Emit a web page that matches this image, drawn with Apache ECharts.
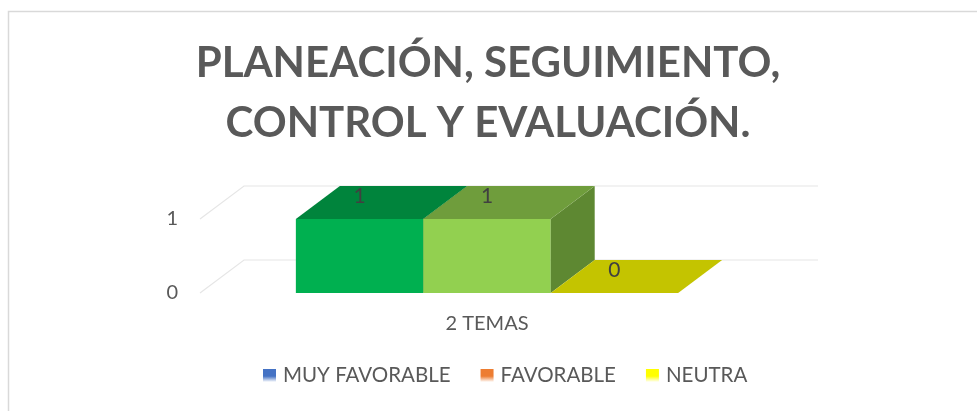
<!DOCTYPE html>
<html>
<head>
<meta charset="utf-8">
<script src="https://cdn.jsdelivr.net/npm/echarts@6/dist/echarts.min.js"></script>
<style>
  html, body { margin: 0; padding: 0; background: #fff; }
  #chart { width: 977px; height: 411px; }
</style>
</head>
<body>
<div id="chart"></div>
<script>
// Chart data
const titleLines = ['PLANEACIÓN, SEGUIMIENTO,', 'CONTROL Y EVALUACIÓN.'];
const categories = ['2 TEMAS'];
const seriesNames = ['MUY FAVORABLE', 'FAVORABLE', 'NEUTRA'];
const muyFavorable = [1];
const favorable = [1];
const neutra = [0];
const yTicks = [0, 1];

// Legend swatch colours and the face colours of each 3D bar
const legendColors = ['#4472C4', '#ED7D31', '#FFFF00'];
const barFaces = [
  { front: '#00B050', top: '#00843C', side: '#00803A' },
  { front: '#92D050', top: '#6F9D3C', side: '#5E8832' },
  { front: '#D4D400', top: '#C4C400', side: '#A8A800' }
];

const DEPTH_X = 44;   // horizontal depth offset of the 3D box
const DEPTH_Y = 33;   // vertical depth offset of the 3D box
const BAR_RATIO = 0.222; // bar width as a share of the category band
const FONT = 'Lato, "Open Sans", sans-serif';
const TEXT_GRAY = '#595959';

const chart = echarts.init(document.getElementById('chart'));

function gradient(c) {
  return new echarts.graphic.LinearGradient(0, 0, 0, 1, [
    { offset: 0, color: c },
    { offset: 0.55, color: c },
    { offset: 1, color: '#ffffff' }
  ]);
}

// Back-wall gridlines with their diagonal floor edge
function renderGrid(params, api) {
  const cs = params.coordSys;
  const y = api.coord([0, api.value(0)])[1];
  const x0 = cs.x;
  return {
    type: 'polyline',
    shape: { points: [[x0, y], [x0 + DEPTH_X, y - DEPTH_Y], [x0 + cs.width + DEPTH_X, y - DEPTH_Y]] },
    style: { stroke: '#e6e6e6', lineWidth: 1.2, fill: null },
    silent: true
  };
}

function makeBarRenderer(idx) {
  return function (params, api) {
    const cat = api.value(0);
    const val = api.value(1);
    const center = api.coord([cat, 0])[0];
    const band = api.size([1, 0])[0];
    const w = band * BAR_RATIO;
    const left = center - 1.5 * w + idx * w;
    const right = left + w;
    const base = api.coord([cat, 0])[1];
    const top = api.coord([cat, val])[1];
    const f = barFaces[idx];
    const children = [];
    if (top < base - 0.5) {
      children.push({
        type: 'polygon',
        shape: { points: [[left, top], [right, top], [right, base], [left, base]] },
        style: { fill: f.front }
      });
      children.push({
        type: 'polygon',
        shape: { points: [[right, top], [right + DEPTH_X, top - DEPTH_Y], [right + DEPTH_X, base - DEPTH_Y], [right, base]] },
        style: { fill: f.side }
      });
    }
    children.push({
      type: 'polygon',
      shape: { points: [[left, top], [right, top], [right + DEPTH_X, top - DEPTH_Y], [left + DEPTH_X, top - DEPTH_Y]] },
      style: { fill: f.top }
    });
    children.push({
      type: 'text',
      style: {
        x: (left + right) / 2,
        y: top - 23,
        text: String(val),
        fill: '#404040',
        font: '21px ' + FONT,
        align: 'center',
        verticalAlign: 'middle'
      },
      z2: 10
    });
    return { type: 'group', children: children };
  };
}

const valueSets = [muyFavorable, favorable, neutra];
// Draw order: the right-most bar first so the box sides overlap correctly
const barSeries = [2, 0, 1].map(function (i) {
  return {
    type: 'custom',
    name: seriesNames[i],
    renderItem: makeBarRenderer(i),
    itemStyle: { color: gradient(legendColors[i]) },
    data: valueSets[i].map(function (v, k) { return [k, v]; }),
    z: 3 + i
  };
});

chart.setOption({
  animation: false,
  legend: {
    data: seriesNames,
    bottom: 20,
    left: 258,
    icon: 'rect',
    itemWidth: 13,
    itemHeight: 13,
    itemGap: 30,
    textStyle: { fontFamily: FONT, fontSize: 20.5, color: TEXT_GRAY, padding: [0, 0, 0, 2] }
  },
  grid: { left: 200, right: 203, top: 219, bottom: 118 },
  xAxis: {
    type: 'category',
    data: categories,
    axisLine: { show: false },
    axisTick: { show: false },
    axisLabel: { margin: 21, fontFamily: FONT, fontSize: 20, color: TEXT_GRAY }
  },
  yAxis: {
    type: 'value',
    min: 0,
    max: 1,
    interval: 1,
    axisLine: { show: false },
    axisTick: { show: false },
    splitLine: { show: false },
    axisLabel: { margin: 22, fontFamily: FONT, fontSize: 20, color: TEXT_GRAY }
  },
  graphic: [{
    type: 'rect',
    shape: { x: 8.5, y: 11.5, width: 1000, height: 500 },
    style: { fill: null, stroke: '#d9d9d9', lineWidth: 1.5 },
    silent: true
  }, {
    type: 'text',
    x: 488,
    y: 63,
    style: {
      text: titleLines[0],
      font: 'bold 42px ' + FONT,
      fill: TEXT_GRAY,
      align: 'center',
      verticalAlign: 'middle'
    }
  }, {
    type: 'text',
    x: 488,
    y: 123,
    style: {
      text: titleLines[1],
      font: 'bold 42px ' + FONT,
      fill: TEXT_GRAY,
      align: 'center',
      verticalAlign: 'middle'
    }
  }],
  series: [{
    type: 'custom',
    name: 'grid',
    renderItem: renderGrid,
    data: yTicks.map(function (v) { return [v]; }),
    encode: { y: 0 },
    silent: true,
    z: 1
  }].concat(barSeries)
});
</script>
</body>
</html>
